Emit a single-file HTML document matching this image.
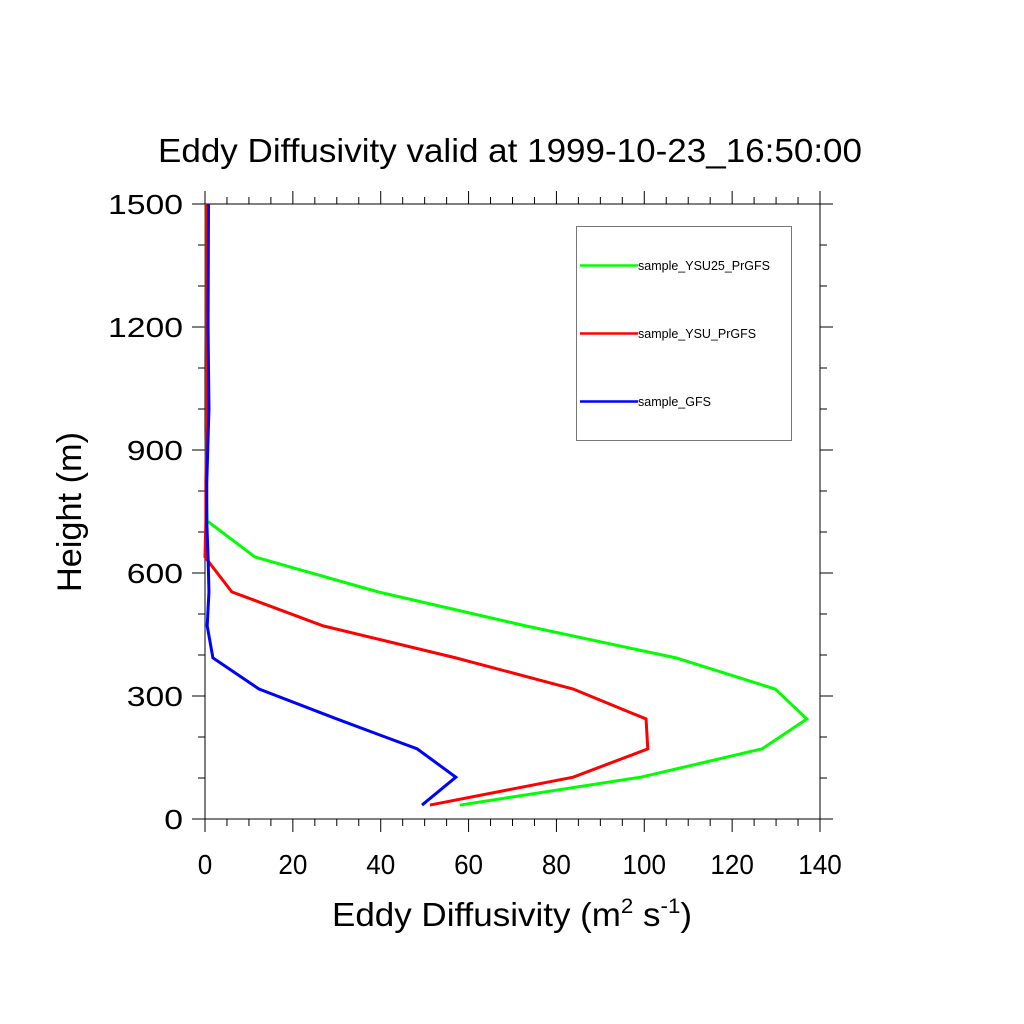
<!DOCTYPE html>
<html><head><meta charset="utf-8"><style>html,body{margin:0;padding:0;background:#fff}svg{display:block}text{font-family:"Liberation Sans",sans-serif}</style></head>
<body>
<svg id="chart" width="1024" height="1024" viewBox="0 0 1024 1024" xmlns="http://www.w3.org/2000/svg">
<rect width="1024" height="1024" fill="#fff"/>
<text x="158" y="162" font-size="33" textLength="704" lengthAdjust="spacingAndGlyphs">Eddy Diffusivity valid at 1999-10-23_16:50:00</text>
<g id="axes"></g>
<g id="series"></g>
<text x="332" y="926" font-size="33" textLength="360" lengthAdjust="spacingAndGlyphs">Eddy Diffusivity (m<tspan font-size="21" dy="-13">2</tspan><tspan dy="13"> s</tspan><tspan font-size="21" dy="-13">-1</tspan><tspan dy="13">)</tspan></text>
<text transform="translate(81,592) rotate(-90)" font-size="34" textLength="160" lengthAdjust="spacingAndGlyphs">Height (m)</text>
<g>
<rect x="576.5" y="226.5" width="215" height="214" fill="#fff" stroke="#777" stroke-width="1"/>
<line x1="580" y1="265.5" x2="638" y2="265.5" stroke="#00ff00" stroke-width="2.5"/>
<text x="638" y="270" font-size="12.5">sample_YSU25_PrGFS</text>
<line x1="580" y1="333.5" x2="638" y2="333.5" stroke="#ff0000" stroke-width="2.5"/>
<text x="638" y="338" font-size="12.5">sample_YSU_PrGFS</text>
<line x1="580" y1="401.5" x2="638" y2="401.5" stroke="#0000ff" stroke-width="2.5"/>
<text x="638" y="406" font-size="12.5">sample_GFS</text>
</g>
</svg>
<script>
const xTicks = [0, 20, 40, 60, 80, 100, 120, 140];
const yTicks = [0, 300, 600, 900, 1200, 1500];
const heights = [34, 102, 171, 244, 317, 393, 471, 554, 639, 727, 820, 1000, 1200, 1500];
const ysu25 = [58, 99.2, 126.8, 137, 129.8, 107.2, 73, 39.4, 11.4, 0.5, 0.2, 0.4, 0.3, 0.3];
const ysu = [51.2, 83.8, 100.8, 100.4, 83.8, 57.1, 26.9, 6.1, 0, 0.2, 0.2, 0.4, 0.3, 0.3];
const gfs = [49.4, 57.1, 48.3, 30, 12.3, 1.8, 0.5, 0.9, 0.7, 0.4, 0.4, 0.9, 0.7, 0.8];

const X0=205, X1=820, Y0=819, Y1=204;
const sx=v=>X0+(v-0)/(140-0)*(X1-X0);
const sy=v=>Y0-(v-0)/(1500-0)*(Y0-Y1);
const NS='http://www.w3.org/2000/svg';
const axes=document.getElementById('axes');
function ln(x1,y1,x2,y2,name,w){const l=document.createElementNS(NS,'line');
l.setAttribute('x1',x1);l.setAttribute('y1',y1);l.setAttribute('x2',x2);l.setAttribute('y2',y2);
l.setAttribute('stroke','#000');l.setAttribute('stroke-width',w||1);


axes.appendChild(l);}
const fr=document.createElementNS(NS,'rect');
fr.setAttribute('x',X0);fr.setAttribute('y',Y1);fr.setAttribute('width',X1-X0);fr.setAttribute('height',Y0-Y1);
fr.setAttribute('fill','none');fr.setAttribute('stroke','#000');fr.setAttribute('stroke-width','1');


axes.appendChild(fr);
for(let v=0;v<=140;v+=5){const maj=v%20===0;const L=maj?13:7;const x=sx(v);
ln(x,Y0,x,Y0+L,'x-tick');ln(x,Y1,x,Y1-L,'x-tick-top');}
for(let v=0;v<=1500;v+=100){const maj=v%300===0;const L=maj?13:7;const y=sy(v);
ln(X0,y,X0-L,y,'y-tick');ln(X1,y,X1+L,y,'y-tick-right');}
xTicks.forEach(v=>{const t=document.createElementNS(NS,'text');const s=String(v);const w=s.length*14.5;
t.setAttribute('x',sx(v)-w/2);t.setAttribute('y',874);
t.setAttribute('font-size','28');t.setAttribute('textLength',w);t.setAttribute('lengthAdjust','spacingAndGlyphs');t.textContent=s;


axes.appendChild(t);});
yTicks.forEach(v=>{const t=document.createElementNS(NS,'text');const s=String(v);const w=s.length*18.75;
t.setAttribute('x',183-w);t.setAttribute('y',sy(v)+10);
t.setAttribute('font-size','28');t.setAttribute('textLength',w);t.setAttribute('lengthAdjust','spacingAndGlyphs');t.textContent=s;


axes.appendChild(t);});
const series=document.getElementById('series');
[[ysu25,'#00ff00','line-ysu25-prgfs'],[ysu,'#ff0000','line-ysu-prgfs'],[gfs,'#0000ff','line-gfs']].forEach(([vals,c,name])=>{
const p=document.createElementNS(NS,'polyline');
p.setAttribute('points',vals.map((v,i)=>sx(v)+','+sy(heights[i])).join(' '));
p.setAttribute('fill','none');p.setAttribute('stroke',c);p.setAttribute('stroke-width','3');


series.appendChild(p);});
</script>
</body></html>
